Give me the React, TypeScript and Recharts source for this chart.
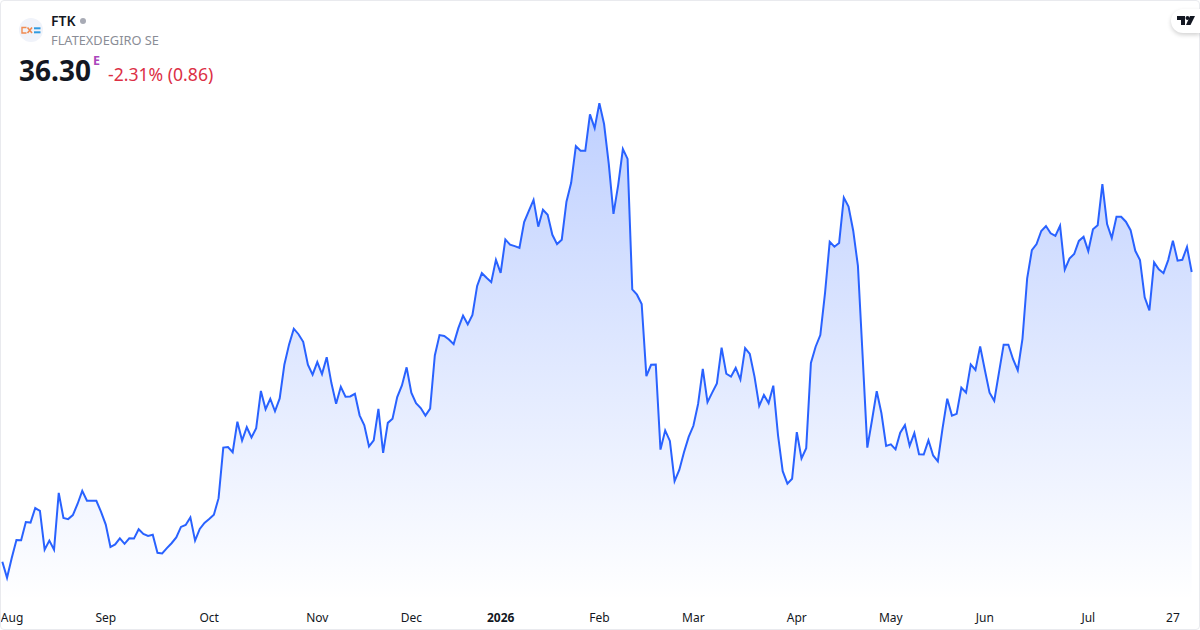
import React from "react";
import { AreaChart, Area, XAxis, YAxis } from "recharts";

const closes: number[] = [
  26.33, 25.78, 26.46, 27.08, 27.07, 27.70, 27.68, 28.18, 28.08, 26.75,
  27.06, 26.75, 28.70, 27.84, 27.80, 27.94, 28.32, 28.77, 28.43, 28.43,
  28.43, 28.05, 27.61, 26.84, 26.93, 27.14, 26.95, 27.14, 27.13, 27.45,
  27.29, 27.22, 27.26, 26.64, 26.62, 26.80, 26.97, 27.17, 27.53, 27.60,
  27.86, 27.06, 27.46, 27.67, 27.80, 27.95, 28.52, 30.26, 30.28, 30.10,
  31.15, 30.50, 30.96, 30.61, 30.93, 32.21, 31.58, 31.94, 31.51, 31.95,
  33.12, 33.81, 34.35, 34.16, 33.90, 33.11, 32.77, 33.20, 32.79, 33.37,
  32.48, 31.77, 32.35, 32.01, 32.02, 32.11, 31.37, 31.03, 30.30, 30.51,
  31.59, 30.08, 31.11, 31.25, 32.00, 32.40, 33.02, 32.15, 31.79, 31.62,
  31.36, 31.60, 33.43, 34.13, 34.10, 33.98, 33.82, 34.37, 34.80, 34.50,
  34.82, 35.82, 36.26, 36.10, 35.95, 36.72, 36.27, 37.42, 37.24, 37.19,
  37.13, 38.02, 38.40, 38.78, 37.86, 38.44, 38.27, 37.58, 37.26, 37.41,
  38.72, 39.37, 40.63, 40.47, 40.47, 41.72, 41.25, 42.11, 41.39, 40.02,
  38.30, 39.29, 40.53, 40.19, 35.70, 35.52, 35.20, 32.72, 33.11, 33.12,
  30.19, 30.85, 30.49, 29.11, 29.49, 30.10, 30.63, 31.01, 31.76, 32.97,
  31.82, 32.15, 32.47, 33.70, 32.80, 32.70, 33.00, 32.60, 33.68, 33.48,
  32.70, 31.69, 32.07, 31.79, 32.39, 30.69, 29.45, 29.02, 29.19, 30.79,
  29.89, 30.24, 33.17, 33.73, 34.13, 35.57, 37.34, 37.17, 37.30, 38.86,
  38.55, 37.72, 36.51, 33.41, 30.26, 31.21, 32.20, 31.44, 30.32, 30.37,
  30.20, 30.77, 31.03, 30.32, 30.76, 30.03, 30.02, 30.51, 29.99, 29.79,
  30.92, 31.94, 31.36, 31.42, 32.32, 32.15, 33.12, 32.93, 33.74, 32.93,
  32.15, 31.87, 32.84, 33.80, 33.80, 33.30, 32.92, 34.00, 36.08, 37.05,
  37.26, 37.71, 37.88, 37.63, 37.54, 37.89, 36.38, 36.76, 36.92, 37.37,
  37.51, 37.02, 37.77, 37.91, 39.32, 37.95, 37.47, 38.20, 38.20, 38.03,
  37.74, 37.03, 36.71, 35.43, 34.98, 36.63, 36.39, 36.26, 36.71, 37.38,
  36.69, 36.72, 37.16, 36.30,
];

const tickIndexes: number[] = [0, 22, 44, 67, 87, 106, 127, 147, 169, 189, 209, 231, 249];
const tickLabels: string[] = ["Aug", "Sep", "Oct", "Nov", "Dec", "2026", "Feb", "Mar", "Apr", "May", "Jun", "Jul", "27"];
const boldLabels: string[] = ["2026"];

const symbol = "FTK";
const company = "FLATEXDEGIRO SE";
const lastPrice = "36.30";
const priceFlag = "E";
const change = "-2.31% (0.86)";

const rows = closes.map((close, day) => ({ day, close }));

const FONT = "'Noto Sans', sans-serif";

function MonthTick(props: any) {
  const { x, y, payload } = props;
  const pos = tickIndexes.indexOf(payload.value);
  const label = tickLabels[pos];
  const first = pos === 0;
  return (
    <text
      x={first ? x - 1.5 : x}
      y={y}
      dy={15}
      textAnchor={first ? "start" : "middle"}
      fontFamily={FONT}
      fontSize={12}
      fontWeight={boldLabels.includes(label) ? 700 : 400}
      fill="#131722"
    >
      {label}
    </text>
  );
}

const abs = (left: number, top: number): React.CSSProperties => ({
  position: "absolute",
  left,
  top,
  whiteSpace: "nowrap",
  fontFamily: FONT,
  lineHeight: 1,
});

export default function App() {
  return (
    <div style={{ position: "fixed", left: 0, top: 0, width: 1200, height: 630, background: "#fff", overflow: "hidden" }}>
      <AreaChart
        width={1200}
        height={630}
        data={rows}
        margin={{ top: 19.1, right: 8.3, bottom: 0, left: 2.33 }}
      >
        <defs>
          <linearGradient id="fade" x1="0" y1="0" x2="0" y2="1">
            <stop offset="0%" stopColor="#2962FF" stopOpacity={0.3} />
            <stop offset="100%" stopColor="#2962FF" stopOpacity={0} />
          </linearGradient>
        </defs>
        <XAxis
          dataKey="day"
          type="category"
          scale="point"
          ticks={tickIndexes}
          interval={0}
          height={29.5}
          axisLine={false}
          tickLine={false}
          tickMargin={0}
          tick={<MonthTick />}
        />
        <YAxis hide domain={[25, 45]} />
        <Area
          type="linear"
          dataKey="close"
          stroke="#2962FF"
          strokeWidth={2}
          fill="url(#fade)"
          fillOpacity={1}
          dot={false}
          activeDot={false}
          isAnimationActive={false}
        />
      </AreaChart>

      {/* card border */}
      <div style={{ position: "absolute", left: 0, top: 0, width: 1198, height: 628, border: "1px solid #E9EAEE", borderRadius: 4, pointerEvents: "none" }} />

      {/* logo */}
      <svg style={{ position: "absolute", left: 19, top: 18 }} width={24} height={24}>
        <circle cx={12} cy={12} r={12} fill="#F0F3FA" />
        <path d="M7.5 9.5 H3 V15 H7.5" fill="none" stroke="#EF8A50" strokeWidth={1.4} />
        <path d="M8.5 9.5 L13 15 M13 9.5 L8.5 15" stroke="#EF8A50" strokeWidth={1.6} />
        <rect x={15} y={9.3} width={6.5} height={2} fill="#2F9BE0" />
        <rect x={15} y={13.3} width={6.5} height={2} fill="#2F9BE0" />
      </svg>

      <div style={{ ...abs(51, 14), fontSize: 14, fontWeight: 600, color: "#131722" }}>{symbol}</div>
      <div style={{ position: "absolute", left: 80, top: 18, width: 6, height: 6, borderRadius: 3, background: "#A8ABB5" }} />
      <div style={{ ...abs(51, 34), fontSize: 12.8, color: "#8A8D96" }}>{company}</div>
      <div style={{ ...abs(19, 56), fontSize: 28, fontWeight: 700, color: "#131722" }}>{lastPrice}</div>
      <div style={{ ...abs(93, 55), fontSize: 12.5, fontWeight: 700, color: "#AB47BC" }}>{priceFlag}</div>
      <div style={{ ...abs(108, 66), fontSize: 17.6, color: "#DC2F45" }}>{change}</div>

      {/* attribution badge */}
      <div style={{ position: "absolute", left: 1171, top: 9, width: 29, height: 24, background: "#fff", borderRadius: "12px 0 0 12px", boxShadow: "0 2px 4px rgba(0,0,0,0.18)" }} />
      <svg style={{ position: "absolute", left: 1176, top: 14 }} width={20} height={13}>
        <path d="M1 2 H9 V11 H5 V6 H1 Z" fill="#131722" />
        <circle cx={11.5} cy={4} r={2} fill="#131722" />
        <path d="M14 2 H19 L14.5 11 H10 Z" fill="#131722" />
      </svg>
    </div>
  );
}
